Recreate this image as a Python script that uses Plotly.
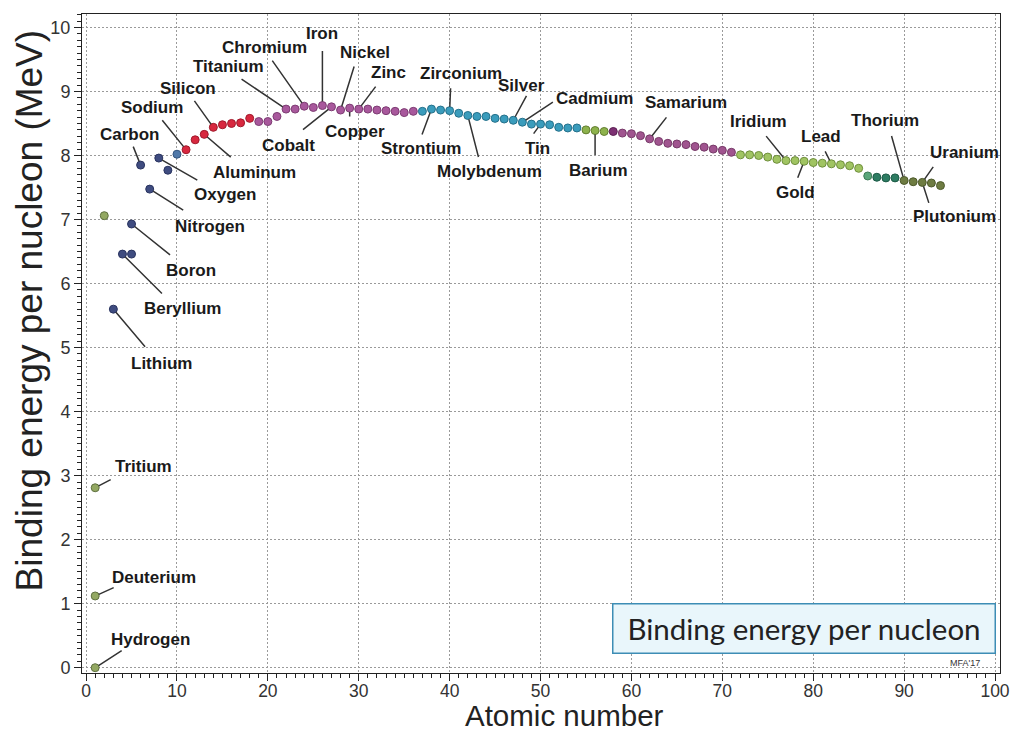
import plotly.graph_objects as go

# ---------------- data ----------------
atomic_number = [1, 1, 1, 2, 3, 4, 5, 5] + list(range(6, 95))
binding_energy = [
    0.00, 1.12, 2.81, 7.06, 5.60, 6.46, 6.46, 6.93,          # H, D, T, He, Li, Be, B-10, B-11
    7.85, 7.475, 7.96, 7.77, 8.02,                            # 6-10
    8.09, 8.245, 8.33, 8.44, 8.48, 8.50, 8.51, 8.58,          # 11-18
    8.53, 8.53, 8.61, 8.725, 8.725, 8.77, 8.75, 8.78, 8.76,   # 19-27
    8.71, 8.74, 8.725, 8.725, 8.71, 8.70, 8.69, 8.67, 8.69,   # 28-36
    8.69, 8.725, 8.71, 8.70, 8.66, 8.625, 8.61, 8.61, 8.58,   # 37-45
    8.57, 8.55, 8.52, 8.49, 8.49, 8.48, 8.44, 8.43, 8.43,     # 46-54
    8.40, 8.39, 8.375, 8.375, 8.35, 8.34, 8.31, 8.26, 8.22,   # 55-63
    8.19, 8.18, 8.17, 8.14, 8.13, 8.10, 8.08, 8.05,           # 64-71
    8.01, 8.01, 8.00, 7.975, 7.94, 7.92, 7.92, 7.91, 7.89,    # 72-80
    7.88, 7.87, 7.855, 7.84, 7.80, 7.68, 7.66, 7.65, 7.65,    # 81-89
    7.61, 7.59, 7.58, 7.57, 7.53,                             # 90-94
]
group = (["light"] * 4 + ["navy"] * 8 + ["steel"] + ["red"] * 8 + ["orchid"] * 18
         + ["teal"] * 18 + ["lime"] * 3 + ["plumdark"] + ["plum"] * 13
         + ["green"] * 14 + ["sea"] + ["pine"] * 3 + ["olive"] * 5)

# label name, index of the point it refers to
label_names = ["Hydrogen", "Deuterium", "Tritium", "Lithium", "Beryllium", "Boron",
               "Carbon", "Nitrogen", "Oxygen", "Sodium", "Aluminum", "Silicon",
               "Titanium", "Chromium", "Iron", "Cobalt", "Nickel", "Copper", "Zinc",
               "Strontium", "Zirconium", "Molybdenum", "Silver", "Cadmium", "Tin",
               "Barium", "Samarium", "Iridium", "Gold", "Lead", "Thorium",
               "Uranium", "Plutonium"]
label_point = [0, 1, 2, 4, 5, 7, 8, 9, 10, 13, 15, 16, 24, 26, 28, 29, 30, 31, 32,
               40, 42, 44, 49, 50, 52, 58, 64, 79, 81, 84, 92, 94, 94]

box_title = "Binding energy per nucleon"
credit = "MFA'17"
x_title = "Atomic number"
y_title = "Binding energy per nucleon (MeV)"

# ---------------- styles / placement ----------------
fill = {"light": "#93a862", "navy": "#3f4c80", "steel": "#4f78a8", "red": "#d8283f",
        "orchid": "#a8589c", "teal": "#3a9cbc", "lime": "#8db24c", "plumdark": "#7c2f72",
        "plum": "#a0548f", "green": "#a0c462", "sea": "#5aa67a", "pine": "#2d7c62",
        "olive": "#6e7c42"}
edge = {"light": "#5f7040", "navy": "#2a3460", "steel": "#33557e", "red": "#a01a2c",
        "orchid": "#7d3c73", "teal": "#25708a", "lime": "#637e30", "plumdark": "#5a1f52",
        "plum": "#763a68", "green": "#6f8f3c", "sea": "#3c7a56", "pine": "#1d5a46",
        "olive": "#4d5a2b"}

# pixel offsets: text centre and leader-line end, relative to the point
text_off = [(55, -28), (59, -18), (48, -21), (48, 54), (60, 54), (59, 46),
            (-11, -31), (60, 37), (66, 36), (-34, -42), (50, 38), (-25, -39),
            (-58, -43), (-40, -59), (0, -72), (-43, 39), (24, -58), (5, 23), (30, -37),
            (-10, 39), (11, -37), (22, 56), (8, -35), (72, -24), (-3, 24),
            (3, 40), (36, -36), (-27, -39), (-9, 31), (-10, -27), (-19, -60),
            (42, -30), (32, 34)]
line_off = [(28, -18), (20, -9), (17, -9), (33, 39), (41, 41), (40, 32),
            (-8, -20), (35, 22), (40, 23), (-25, -31), (28, 24), (-20, -28),
            (-46, -31), (-33, -47), (0, -56), (-30, 24), (14, -45), (0, 10), (18, -24),
            (-10, 27), (1, -24), (11, 43), (14, -26), (32, -21), (-8, 11),
            (0, 26), (18, -23), (-21, -26), (-7, 18), (-7, -14), (-13, -46),
            (12, -17), (7, 22)]

BASE = "Liberation Sans, Arial, sans-serif"

fig = go.Figure()
fig.add_trace(go.Scatter(
    x=atomic_number, y=binding_energy, mode="markers",
    marker=dict(size=8, color=[fill[g] for g in group],
                line=dict(width=1, color=[edge[g] for g in group])),
    hoverinfo="x+y", showlegend=False, cliponaxis=False,
))

annotations = []
for name, idx, (tx, ty), (lx, ly) in zip(label_names, label_point, text_off, line_off):
    px, py = atomic_number[idx], binding_energy[idx]
    annotations.append(dict(x=px, y=py, xref="x", yref="y", text="", showarrow=True,
                            ax=lx, ay=ly, arrowhead=0, arrowwidth=1.5,
                            arrowcolor="#333333", standoff=4))
    annotations.append(dict(x=px, y=py, xref="x", yref="y", text=name, showarrow=False,
                            xshift=tx, yshift=-ty, xanchor="center", yanchor="middle",
                            font=dict(family=BASE, size=17, color="#1a1a1a",
                                      weight="bold")))

annotations.append(dict(x=79, y=0.615, xref="x", yref="y", text=box_title,
                        showarrow=False, width=381, height=48, align="center",
                        bgcolor="#e9f6fb", bordercolor="#3d8db5", borderwidth=1.5,
                        borderpad=0, valign="middle",
                        font=dict(family="Lato, sans-serif", size=29.5, color="#222222")))
annotations.append(dict(x=96.7, y=0.07, xref="x", yref="y", text=credit, showarrow=False,
                        font=dict(family=BASE, size=9, color="#333333")))

# axis titles (placed where the reference has them)
annotations.append(dict(x=0.526, y=-0.0908, xref="paper", yref="paper", text=x_title,
                        showarrow=False, xanchor="center", yanchor="bottom", borderpad=0,
                        font=dict(family=BASE, size=29.5, color="#222222")))
annotations.append(dict(x=-0.0572, y=0.551, xref="paper", yref="paper", text=y_title,
                        showarrow=False, xanchor="center", yanchor="middle", textangle=-90,
                        font=dict(family=BASE, size=37, color="#222222")))

axis_common = dict(showline=True, linecolor="#222222", linewidth=1, mirror=True,
                   ticks="outside", ticklen=7, tickwidth=1, tickcolor="#222222",
                   showgrid=True, gridcolor="#9a9a9a", griddash="2px,2px", gridwidth=1,
                   zeroline=False, automargin=False,
                   tickfont=dict(family=BASE, size=18, color="#333333"))

fig.update_layout(
    width=1012, height=733,
    margin=dict(l=82, r=12, t=14, b=60),
    paper_bgcolor="white", plot_bgcolor="white",
    xaxis=dict(range=[-0.45, 100.55], dtick=10, tick0=0, ticklabelstandoff=-5,
               minor=dict(dtick=1, ticks="outside", ticklen=4, tickcolor="#222222",
                          showgrid=False),
               **{**axis_common,
                  "tickfont": dict(family=BASE, size=17.5, color="#333333")}),
    yaxis=dict(range=[-0.083, 10.21], dtick=1, tick0=0,
               minor=dict(dtick=0.1, ticks="outside", ticklen=4, tickcolor="#222222",
                          showgrid=False),
               **axis_common),
    annotations=annotations,
)

fig.write_html("out.html")
